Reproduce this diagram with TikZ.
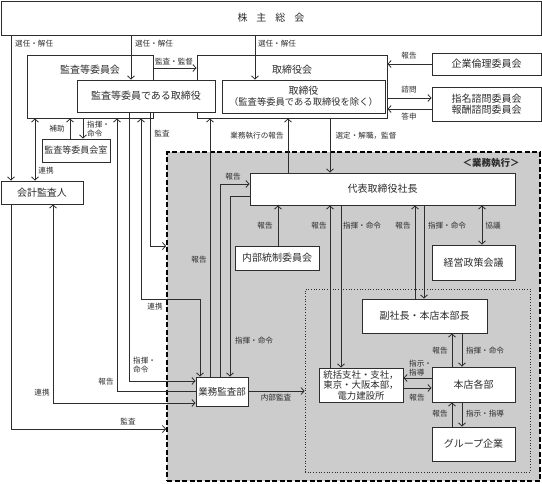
\documentclass[tikz,border=0pt]{standalone}
\usepackage{fontspec}
\setmainfont{Noto Sans CJK JP}
\usetikzlibrary{arrows.meta}
\definecolor{bggray}{RGB}{204,204,204}
\definecolor{ink}{RGB}{45,45,45}
\begin{document}
\begin{tikzpicture}[x=1pt,y=-1pt,
  box/.style={draw=ink, line width=0.9pt, fill=white, inner sep=0pt, text=ink, align=center, font=\fontsize{10}{12}\selectfont},
  ttl/.style={inner sep=0pt, text=ink, font=\fontsize{10}{12}\selectfont},
  lbl/.style={inner sep=0pt, text=ink, font=\fontsize{7.6}{9.5}\selectfont, align=left},
  arr/.style={draw=ink, line width=0.8pt, -{Straight Barb[length=3.2pt,width=7pt]}},
  darr/.style={draw=ink, line width=0.8pt, {Straight Barb[length=3.2pt,width=7pt]}-{Straight Barb[length=3.2pt,width=7pt]}}
]
\useasboundingbox (0,0) rectangle (542,483);

% execution region
\node[draw=black, fill=bggray, line width=1.6pt, dash pattern=on 5pt off 2.5pt, minimum width=373pt, minimum height=329pt, inner sep=0pt] (exec) at (353.5,316.5) {};
\node[draw=ink, line width=0.7pt, dotted, minimum width=225pt, minimum height=183pt, inner sep=0pt] (dotted) at (417.5,380.5) {};
\node[inner sep=0pt, text=ink, font=\fontsize{9.5}{11}\selectfont\bfseries] (exlbl) at (491,163) {＜業務執行＞};

% top
\node[box, minimum width=540pt, minimum height=34pt] (sokai) at (271,18) {株\hspace{0.9em}主\hspace{0.9em}総\hspace{0.9em}会};

\node[box, minimum width=126pt, minimum height=63pt] (kansaI) at (90,86.5) {};
\node[ttl] (kansaIt) at (90,70) {監査等委員会};
\node[box, minimum width=190pt, minimum height=63pt] (torikai) at (292,86.5) {};
\node[ttl] (torikait) at (292,70) {取締役会};
\node[box, minimum width=138pt, minimum height=32pt] (kansaTori) at (146,96) {監査等委員である取締役};
\node[box, minimum width=163pt, minimum height=33pt] (tori) at (303.5,96.5) {取締役\\[-1pt]{\fontsize{9.3}{11}\selectfont （監査等委員である取締役を除く）}};

\node[box, minimum width=109pt, minimum height=22pt] (rinri) at (486.5,64) {企業倫理委員会};
\node[box, minimum width=109pt, minimum height=34pt, font=\fontsize{10}{10.5}\selectfont] (shimei) at (486.5,104) {指名諮問委員会\\報酬諮問委員会};

\node[box, minimum width=68pt, minimum height=23pt, font=\fontsize{9}{11}\selectfont] (shitsu) at (76,150.5) {監査等委員会室};
\node[box, minimum width=82pt, minimum height=23pt] (kaikei) at (42,192.5) {会計監査人};

% execution boxes
\node[box, minimum width=265pt, minimum height=32pt] (shacho) at (382.5,189) {代表取締役社長};
\node[box, minimum width=84pt, minimum height=24pt] (naibu) at (277,258) {内部統制委員会};
\node[box, minimum width=83pt, minimum height=35pt] (keiei) at (473.5,262.5) {経営政策会議};
\node[box, minimum width=125pt, minimum height=34pt] (fuku) at (424.5,316) {副社長・本店本部長};
\node[box, minimum width=84pt, minimum height=34pt, font=\fontsize{9.4}{10.5}\selectfont] (tokatsu) at (361,385) {統括支社・支社，\\東京・大阪本部，\\電力建設所};
\node[box, minimum width=83pt, minimum height=35pt] (honten) at (473.5,384.5) {本店各部};
\node[box, minimum width=83pt, minimum height=34pt] (group) at (473.5,444) {グループ企業};
\node[box, minimum width=52pt, minimum height=29pt, font=\fontsize{9.5}{11}\selectfont] (gyomu) at (222,391.5) {業務監査部};

% connectors: shareholders
\draw[arr] (11,0 |- sokai.south) -- (11,0 |- kaikei.north);
\node[lbl, anchor=west] (l1) at (15,44) {選任・解任};
\draw[arr] (11,0 |- kaikei.south) |- (exec.west |- 0,429);
\node[lbl] (l2) at (128,422) {監査};
\draw[arr] (131,0 |- sokai.south) -- (131,0 |- kansaTori.north);
\node[lbl] (l3) at (154,44) {選任・解任};
\draw[arr] (255,0 |- sokai.south) -- (255,0 |- tori.north);
\node[lbl] (l4) at (277,44) {選任・解任};

% top right
\draw[arr] (kansaI.east |- 0,68) -- (torikai.west |- 0,68);
\node[lbl] (l5) at (174,62) {監査・監督};
\draw[arr] (rinri.west |- 0,64) -- (torikai.east |- 0,64);
\node[lbl] (l6) at (409,56) {報告};
\draw[arr] (torikai.east |- 0,98) -- (shimei.west |- 0,98);
\node[lbl] (l7) at (409,90) {諮問};
\draw[arr] (shimei.west |- 0,109) -- (torikai.east |- 0,109);
\node[lbl] (l8) at (409,117) {答申};

% audit committee area
\draw[darr] (35,0 |- kansaI.south) -- (35,0 |- kaikei.north);
\node[lbl] (l9) at (46,171) {連携};
\draw[arr] (70,0 |- shitsu.north) -- (70,0 |- kansaI.south);
\node[lbl] (l10) at (57,129) {補助};
\draw[arr] (83,0 |- kansaI.south) -- (83,0 |- shitsu.north);
\node[lbl, anchor=west, font=\fontsize{7.6}{8.6}\selectfont] (l11) at (87,129) {指揮・\\命令};
\draw[arr] (gyomu.west |- 0,391) -| (117,0 |- kansaI.south);
\node[lbl] (l12) at (106,382) {報告};
\draw[arr] (129,0 |- kansaTori.south) |- (gyomu.west |- 0,381);
\node[lbl, anchor=west, font=\fontsize{7.6}{8.6}\selectfont] (l13) at (133,365) {指揮・\\命令};
\draw[arr] (150,0 |- kansaTori.south) |- (exec.west |- 0,246);
\node[lbl] (l14) at (162,134) {監査};
\draw[darr] (141,0 |- kansaI.south) -- (141,299) -| (200,0 |- gyomu.north);
\node[lbl] (l15) at (155,307) {連携};
\draw[darr] (53,0 |- kaikei.south) |- (gyomu.west |- 0,403);
\node[lbl] (l16) at (42,393) {連携};

% internal audit dept
\draw[arr] (210,0 |- gyomu.north) -- (210,0 |- torikai.south);
\node[lbl] (l17) at (199,260) {報告};
\draw[arr] (220,0 |- gyomu.north) |- (shacho.west |- 0,184);
\node[lbl] (l18) at (233,177) {報告};
\draw[arr] (shacho.west |- 0,196) -| (230,0 |- gyomu.north);
\node[lbl] (l19) at (254,341) {指揮・命令};
\draw[arr] (gyomu.east |- 0,391) -- (dotted.west |- 0,391);
\node[lbl] (l20) at (276,398) {内部監査};

% president
\draw[arr] (288,0 |- shacho.north) -- (288,0 |- torikai.south);
\node[lbl] (l21) at (257,136) {業務執行の報告};
\draw[arr] (330,0 |- torikai.south) -- (330,0 |- shacho.north);
\node[lbl] (l22) at (366,136) {選定・解職，監督};
\draw[arr] (278,0 |- naibu.north) -- (278,0 |- shacho.south);
\node[lbl] (l23) at (265,226) {報告};
\draw[arr] (330,0 |- tokatsu.north) -- (330,0 |- shacho.south);
\node[lbl] (l24) at (319,226) {報告};
\draw[arr] (341,0 |- shacho.south) -- (341,0 |- tokatsu.north);
\node[lbl] (l25) at (362,226) {指揮・命令};
\draw[arr] (415,0 |- fuku.north) -- (415,0 |- shacho.south);
\node[lbl] (l26) at (403,226) {報告};
\draw[arr] (424,0 |- shacho.south) -- (424,0 |- fuku.north);
\node[lbl] (l27) at (447,226) {指揮・命令};
\draw[darr] (482,0 |- shacho.south) -- (482,0 |- keiei.north);
\node[lbl] (l28) at (493,226) {協議};

% lower right
\draw[arr] (452,0 |- honten.north) -- (452,0 |- fuku.south);
\node[lbl] (l29) at (440,351) {報告};
\draw[arr] (462,0 |- fuku.south) -- (462,0 |- honten.north);
\node[lbl] (l30) at (485,351) {指揮・命令};
\draw[arr] (honten.west |- 0,378) -- (tokatsu.east |- 0,378);
\node[lbl, anchor=west, font=\fontsize{7.6}{8.6}\selectfont] (l31) at (409,368) {指示・\\指導};
\draw[arr] (tokatsu.east |- 0,388) -- (honten.west |- 0,388);
\node[lbl] (l32) at (417,398) {報告};
\draw[arr] (452,0 |- group.north) -- (452,0 |- honten.south);
\node[lbl] (l33) at (440,414) {報告};
\draw[arr] (462,0 |- honten.south) -- (462,0 |- group.north);
\node[lbl] (l34) at (485,414) {指示・指導};
\end{tikzpicture}
\end{document}
